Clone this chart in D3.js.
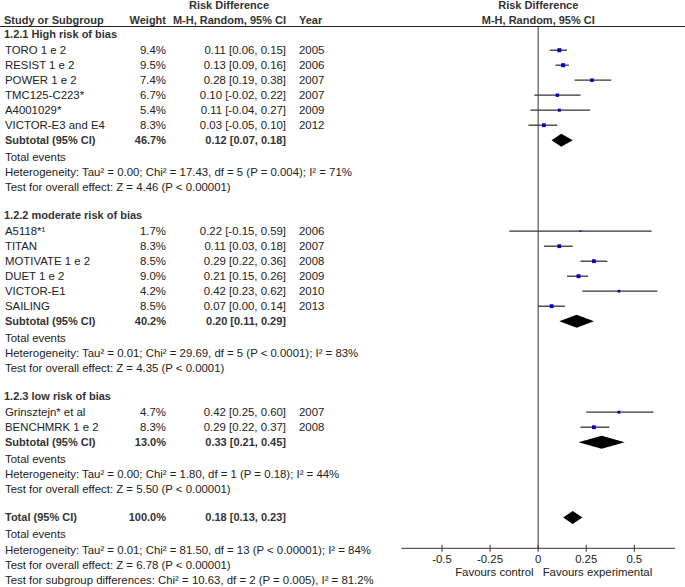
<!DOCTYPE html>
<html>
<head>
<meta charset="utf-8">
<script src="https://cdn.jsdelivr.net/npm/d3@7"></script>
<style>
  body { margin: 0; background: #fff; }
  svg text { font-family: "Liberation Sans", Arial, sans-serif; font-size: 11.4px; fill: #222; }
  .b { font-weight: bold; font-size: 11px; fill: #333; }
</style>
</head>
<body>
<div id="forest"></div>
<script>
// Forest plot - risk difference, M-H random effects

const width = 685;
const height = 587;

// data
const groupNames = ["1.2.1 High risk of bias", "1.2.2 moderate risk of bias", "1.2.3 low risk of bias"];
const studyNames = ["TORO 1 e 2", "RESIST 1 e 2", "POWER 1 e 2", "TMC125-C223*", "A4001029*", "VICTOR-E3 and E4",
                    "A5118*¹", "TITAN", "MOTIVATE 1 e 2", "DUET 1 e 2", "VICTOR-E1", "SAILING",
                    "Grinsztejn* et al", "BENCHMRK 1 e 2"];
const studyGroup = [0, 0, 0, 0, 0, 0, 1, 1, 1, 1, 1, 1, 2, 2];
const studyWeight = [9.4, 9.5, 7.4, 6.7, 5.4, 8.3, 1.7, 8.3, 8.5, 9.0, 4.2, 8.5, 4.7, 8.3];
const studyRD = [0.11, 0.13, 0.28, 0.10, 0.11, 0.03, 0.22, 0.11, 0.29, 0.21, 0.42, 0.07, 0.42, 0.29];
const studyLow = [0.06, 0.09, 0.19, -0.02, -0.04, -0.05, -0.15, 0.03, 0.22, 0.15, 0.23, 0.00, 0.25, 0.22];
const studyHigh = [0.15, 0.16, 0.38, 0.22, 0.27, 0.10, 0.59, 0.18, 0.36, 0.26, 0.62, 0.14, 0.60, 0.37];
const studyYear = [2005, 2006, 2007, 2007, 2009, 2012, 2006, 2007, 2008, 2009, 2010, 2013, 2007, 2008];

const subWeight = [46.7, 40.2, 13.0];
const subRD = [0.12, 0.20, 0.33];
const subLow = [0.07, 0.11, 0.21];
const subHigh = [0.18, 0.29, 0.45];
const subHetero = [
  "Heterogeneity: Tau² = 0.00; Chi² = 17.43, df = 5 (P = 0.004); I² = 71%",
  "Heterogeneity: Tau² = 0.01; Chi² = 29.69, df = 5 (P < 0.0001); I² = 83%",
  "Heterogeneity: Tau² = 0.00; Chi² = 1.80, df = 1 (P = 0.18); I² = 44%"
];
const subTest = [
  "Test for overall effect: Z = 4.46 (P < 0.00001)",
  "Test for overall effect: Z = 4.35 (P < 0.0001)",
  "Test for overall effect: Z = 5.50 (P < 0.00001)"
];

const totalWeight = 100.0;
const totalRD = 0.18, totalLow = 0.13, totalHigh = 0.23;
const totalNotes = [
  "Total events",
  "Heterogeneity: Tau² = 0.01; Chi² = 81.50, df = 13 (P < 0.00001); I² = 84%",
  "Test for overall effect: Z = 6.78 (P < 0.00001)",
  "Test for subgroup differences: Chi² = 10.63, df = 2 (P = 0.005), I² = 81.2%"
];

const xTicks = [-0.5, -0.25, 0, 0.25, 0.5];
const xLabels = ["-0.5", "-0.25", "0", "0.25", "0.5"];
const favours = ["Favours control", "Favours experimental"];

const svg = d3.select("#forest")
  .append("svg")
  .attr("width", width)
  .attr("height", height);

// x scale for the plot part
const x = d3.scaleLinear().domain([-0.5, 0.5]).range([442, 634.3]);
const axisY = 548.3;
const headLineY = 26.5;

const fmt = v => v.toFixed(2);
const ciText = (m, l, h) => `${fmt(m)} [${fmt(l)}, ${fmt(h)}]`;

// columns
const colName = 5, colWeight = 166, colCI = 286, colYear = 299;

// header
svg.append("text").attr("class", "b").attr("x", 229).attr("y", 5).attr("dy", "0.35em")
  .attr("text-anchor", "middle").text("Risk Difference");
svg.append("text").attr("class", "b").attr("x", 538.3).attr("y", 5).attr("dy", "0.35em")
  .attr("text-anchor", "middle").text("Risk Difference");
svg.append("text").attr("class", "b").attr("x", colName - 1).attr("y", 20).attr("dy", "0.35em").text("Study or Subgroup");
svg.append("text").attr("class", "b").attr("x", colWeight).attr("y", 20).attr("dy", "0.35em")
  .attr("text-anchor", "end").text("Weight");
svg.append("text").attr("class", "b").attr("x", colCI).attr("y", 20).attr("dy", "0.35em")
  .attr("text-anchor", "end").text("M-H, Random, 95% CI");
svg.append("text").attr("class", "b").attr("x", colYear).attr("y", 20).attr("dy", "0.35em").text("Year");
svg.append("text").attr("class", "b").attr("x", 538.3).attr("y", 20).attr("dy", "0.35em")
  .attr("text-anchor", "middle").text("M-H, Random, 95% CI");

svg.append("line").attr("x1", 0).attr("x2", width).attr("y1", headLineY).attr("y2", headLineY)
  .attr("stroke", "#222").attr("stroke-width", 1);

// zero line
svg.append("line").attr("x1", x(0)).attr("x2", x(0)).attr("y1", headLineY).attr("y2", axisY)
  .attr("stroke", "#333").attr("stroke-width", 1);

function txt(xp, yp, s, anchor, bold) {
  svg.append("text").attr("class", bold ? "b" : null)
    .attr("x", xp).attr("y", yp).attr("dy", "0.35em")
    .attr("text-anchor", anchor || "start").text(s);
}

function diamond(yp, m, l, h) {
  const hh = 6.5;
  svg.append("path")
    .attr("d", `M${x(l)},${yp} L${x(m)},${yp - hh} L${x(h)},${yp} L${x(m)},${yp + hh} Z`)
    .attr("fill", "#000");
}

// walk through the groups
let y = 34.5;
groupNames.forEach((g, gi) => {
  txt(colName - 1, y, g, "start", true);
  y += 15.7;
  const idx = d3.range(studyNames.length).filter(i => studyGroup[i] === gi);
  idx.forEach(i => {
    txt(colName, y, studyNames[i]);
    txt(colWeight, y, studyWeight[i].toFixed(1) + "%", "end");
    txt(colCI, y, ciText(studyRD[i], studyLow[i], studyHigh[i]), "end");
    txt(colYear, y, studyYear[i]);
    svg.append("line")
      .attr("x1", x(studyLow[i])).attr("x2", x(studyHigh[i]))
      .attr("y1", y).attr("y2", y)
      .attr("stroke", "#333").attr("stroke-width", 1.3);
    const s = 1.3 * Math.sqrt(studyWeight[i]);
    svg.append("rect")
      .attr("x", x(studyRD[i]) - s / 2).attr("y", y - s / 2)
      .attr("width", s).attr("height", s)
      .attr("fill", "#0000cc");
    y += 15;
  });
  txt(colName, y, "Subtotal (95% CI)", "start", true);
  txt(colWeight, y, subWeight[gi].toFixed(1) + "%", "end", true);
  txt(colCI, y, ciText(subRD[gi], subLow[gi], subHigh[gi]), "end", true);
  diamond(y, subRD[gi], subLow[gi], subHigh[gi]);
  y += 17;
  txt(colName, y, "Total events");
  y += 15;
  txt(colName, y, subHetero[gi]);
  y += 15;
  txt(colName, y, subTest[gi]);
  y += 28.3;
});

// overall
txt(colName, y, "Total (95% CI)", "start", true);
txt(colWeight, y, totalWeight.toFixed(1) + "%", "end", true);
txt(colCI, y, ciText(totalRD, totalLow, totalHigh), "end", true);
diamond(y, totalRD, totalLow, totalHigh);
y += 17;
totalNotes.forEach(t => { txt(colName, y, t); y += 15.3; });

// axis
const axisG = svg.append("g").attr("transform", `translate(0,${axisY})`);
axisG.append("line").attr("x1", x(-0.711)).attr("x2", x(0.712))
  .attr("stroke", "#333").attr("stroke-width", 1);
axisG.selectAll(".tk").data(xTicks).enter().append("line")
  .attr("x1", d => x(d)).attr("x2", d => x(d))
  .attr("y1", -3.5).attr("y2", 3.5)
  .attr("stroke", "#333");
axisG.selectAll(".tl").data(xTicks).enter().append("text")
  .attr("x", d => x(d)).attr("y", 11).attr("dy", "0.35em")
  .attr("text-anchor", "middle").text((d, i) => xLabels[i]);
axisG.append("text").attr("x", x(0) - 4.5).attr("y", 24).attr("dy", "0.35em")
  .attr("text-anchor", "end").text(favours[0]);
axisG.append("text").attr("x", x(0) + 4.5).attr("y", 24).attr("dy", "0.35em")
  .text(favours[1]);
</script>
</body>
</html>
